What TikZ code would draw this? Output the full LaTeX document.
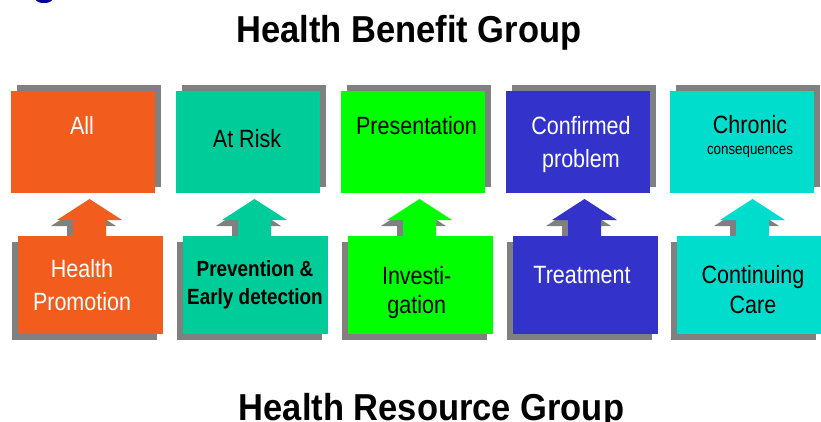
\documentclass[tikz,border=0pt]{standalone}
\usepackage{fontspec}
\setmainfont{Liberation Sans}
\newfontfamily\boxfont[FakeStretch=0.86]{Liberation Sans}
\newfontfamily\titlefont[FakeStretch=0.92]{Liberation Sans}
\usetikzlibrary{calc}
\definecolor{cOrange}{HTML}{F25C1C}
\definecolor{cTeal}{HTML}{00CC99}
\definecolor{cGreen}{HTML}{00FF00}
\definecolor{cBlue}{HTML}{3333CC}
\definecolor{cTurq}{HTML}{00DDCC}
\definecolor{cShadow}{HTML}{808080}
\definecolor{cNavy}{HTML}{000099}
\tikzset{
  boxbase/.style={rectangle, draw=none, inner sep=0pt, outer sep=0pt},
  topbox/.style={boxbase, minimum width=144pt, minimum height=102pt},
  botbox/.style={boxbase, minimum width=145pt, minimum height=98pt},
  shadowfill/.style={fill=cShadow},
  boxtxt/.style={font=\boxfont\fontsize{25}{30}\selectfont, anchor=base, inner sep=0pt},
  boldtxt/.style={font=\boxfont\bfseries\fontsize{22}{26}\selectfont, anchor=base, inner sep=0pt},
  smalltxt/.style={font=\boxfont\fontsize{15.5}{18}\selectfont, anchor=base, inner sep=0pt},
  titletxt/.style={font=\titlefont\bfseries\fontsize{37.5}{40}\selectfont, anchor=base, inner sep=0pt},
}
\newcommand{\uparrowshape}[2]{% #1 coordinate name (shaft base centre at box top), #2 fill
  \fill[#2] ($(#1)+(0,-37)$) -- ($(#1)+(32.5,-16)$) -- ($(#1)+(16.5,-16)$) -- ($(#1)+(16.5,4)$)
    -- ($(#1)+(-16.5,4)$) -- ($(#1)+(-16.5,-16)$) -- ($(#1)+(-32.5,-16)$) -- cycle;}
\begin{document}
\begin{tikzpicture}[x=1pt,y=-1pt]
\useasboundingbox (0,0) rectangle (821,421);
\clip (0,0) rectangle (821,421);
% fragment of text cut off at the top
\fill[cNavy] (36,0) .. controls (37,4) and (51,4) .. (52,0) -- cycle;
% titles
\node[titletxt] (tTop) at (409,42) {Health Benefit Group};
\node[titletxt] (tBot) at (431.5,420) {Health Resource Group};
% ---------- top row ----------
\foreach \cx/\col [count=\i] in {83/cOrange,248/cTeal,413/cGreen,577.5/cBlue,742/cTurq}{
  \fill[shadowfill] (\cx-72+6,85) rectangle (\cx+72+6,187);
  \node[topbox, fill=\col] (t\i) at (\cx,142) {};
}
\node[boxtxt, text=white] (l1) at (82,134) {All};
\node[boxtxt] (l2) at (247,147) {At Risk};
\node[boxtxt] (l3) at (416.5,134) {Presentation};
\node[boxtxt, text=white] (l4a) at (581,134) {Confirmed};
\node[boxtxt, text=white] (l4b) at (581,167) {problem};
\node[boxtxt] (l5a) at (750,133) {Chronic};
\node[smalltxt] (l5b) at (750,154) {consequences};
% ---------- bottom row: arrows and boxes ----------
\foreach \cx/\ax/\col [count=\i] in {90.5/89.5/cOrange,255.5/254.5/cTeal,420.5/419.5/cGreen,585.5/584.5/cBlue,749.5/752.5/cTurq}{
  \coordinate (a\i) at (\ax,236);
  \coordinate (as\i) at (\ax-6,242);
  \uparrowshape{as\i}{cShadow}
  \uparrowshape{a\i}{\col}
  \fill[shadowfill] (\cx-72.5-6,242) rectangle (\cx+72.5-6,340);
  \node[botbox, fill=\col] (b\i) at (\cx,285) {};
}
\node[boxtxt, text=white] (m1a) at (82,277) {Health};
\node[boxtxt, text=white] (m1b) at (82,310) {Promotion};
\node[boldtxt] (m2a) at (255,276) {Prevention \&};
\node[boldtxt] (m2b) at (255,304) {Early detection};
\node[boxtxt] (m3a) at (416.7,284) {Investi-};
\node[boxtxt] (m3b) at (416.7,313) {gation};
\node[boxtxt, text=white] (m4) at (582,283) {Treatment};
\node[boxtxt] (m5a) at (753,283) {Continuing};
\node[boxtxt] (m5b) at (753,313) {Care};
\end{tikzpicture}
\end{document}
